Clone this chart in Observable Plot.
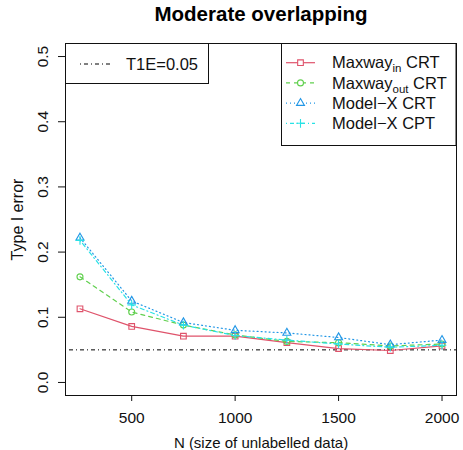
<!DOCTYPE html>
<html><head><meta charset="utf-8">
<script src="https://cdn.jsdelivr.net/npm/d3@7"></script>
<script src="https://cdn.jsdelivr.net/npm/@observablehq/plot@0.6"></script>
<style>body{margin:0;background:#fff}</style>
</head><body><div id="chart"></div>
<script>
const N = [250, 500, 750, 1000, 1250, 1500, 1750, 2000];
const maxwayIn  = [0.113, 0.086, 0.071, 0.071, 0.061, 0.052, 0.049, 0.056];
const maxwayOut = [0.162, 0.108, 0.088, 0.073, 0.063, 0.061, 0.056, 0.059];
const modelXCRT = [0.222, 0.125, 0.092, 0.080, 0.076, 0.069, 0.058, 0.065];
const modelXCPT = [0.218, 0.119, 0.088, 0.072, 0.065, 0.059, 0.054, 0.057];
const seriesLabels = [["Maxway", "in", " CRT"], ["Maxway", "out", " CRT"], ["Model\u2212X CRT"], ["Model\u2212X CPT"]];
const t1e = 0.05;
const xTicks = [500, 1000, 1500, 2000];
const yTicks = [0, 0.1, 0.2, 0.3, 0.4, 0.5];
const titleText = "Moderate overlapping";
const xLabel = "N (size of unlabelled data)";
const yLabel = "Type I error";

const seriesValues = [maxwayIn, maxwayOut, modelXCRT, modelXCPT];
const styles = [
  {color: "#DF536B", dash: null, symbol: "square2", d3sym: d3.symbolSquare2, r: 3.6},
  {color: "#61D04F", dash: "4,4", symbol: "circle", d3sym: d3.symbolCircle, r: 3},
  {color: "#2297E6", dash: "1,3", symbol: "triangle2", d3sym: d3.symbolTriangle2, r: 3.8},
  {color: "#28E2E5", dash: "1,3,4,3", symbol: "plus", d3sym: d3.symbolPlus, r: 2.9}
];
const font = "Liberation Sans, Arial, Helvetica, sans-serif";

const marks = [
  Plot.ruleY([t1e], {stroke: "#000", strokeWidth: 1, strokeDasharray: "1,3,4,3"})
];
seriesValues.forEach((vals, i) => {
  const s = styles[i];
  const rows = N.map((n, j) => ({n, v: vals[j]}));
  marks.push(Plot.line(rows, {x: "n", y: "v", stroke: s.color, strokeWidth: 1.2, strokeDasharray: s.dash}));
  marks.push(Plot.dot(rows, {x: "n", y: "v", stroke: s.color, fill: "none", strokeWidth: 1.1, symbol: () => s.symbol, r: s.r}));
});
marks.push(
  Plot.frame({stroke: "#111", strokeWidth: 1}),
  Plot.axisX(xTicks, {tickSize: 6, tickPadding: 10, fontSize: 15.5, label: null, stroke: "#111", tickFormat: d3.format("d")}),
  Plot.axisY(yTicks, {tickSize: 7, tickFormat: () => "", label: null, stroke: "#111"}),
  Plot.text(yTicks, {y: d => d, text: d => d3.format(".1f")(d), frameAnchor: "left", dx: -22, rotate: -90, textAnchor: "middle", lineAnchor: "middle", fontSize: 15.5, fill: "#111"}),
  Plot.text([yLabel], {text: d => d, frameAnchor: "left", dx: -48, rotate: -90, textAnchor: "middle", lineAnchor: "middle", fontSize: 16, fill: "#111"}),
  Plot.text([xLabel], {text: d => d, frameAnchor: "bottom", dy: 48, lineAnchor: "middle", fontSize: 15, fill: "#111"}),
  Plot.text([titleText], {text: d => d, frameAnchor: "top", dy: -29, lineAnchor: "middle", fontSize: 20.5, fontWeight: "bold", fill: "#000"})
);

const plot = Plot.plot({
  width: 463, height: 450,
  marginLeft: 65, marginRight: 7, marginTop: 43, marginBottom: 55,
  x: {domain: [180, 2070], label: null},
  y: {domain: [-0.02, 0.52], label: null},
  style: {fontFamily: font, background: "#fff", color: "#111"},
  marks
});
document.getElementById("chart").appendChild(plot);

// Legends
const svg = d3.select(plot);
const g = svg.append("g").attr("font-family", font).attr("font-size", 16.5)
  .attr("text-anchor", "start").attr("fill", "#111");
// T1E legend (top-left)
g.append("rect").attr("x", 65.5).attr("y", 43.5).attr("width", 143).attr("height", 40).attr("fill", "#fff").attr("stroke", "#111");
g.append("line").attr("x1", 80).attr("x2", 112).attr("y1", 64).attr("y2", 64).attr("stroke", "#000").attr("stroke-dasharray", "1,3,4,3");
g.append("text").attr("x", 126).attr("y", 64).attr("dy", "0.35em").attr("text-anchor", "start").text(`T1E=${t1e}`);
// Series legend (top-right)
g.append("rect").attr("x", 281.5).attr("y", 43.5).attr("width", 174.5).attr("height", 102).attr("fill", "#fff").attr("stroke", "#111");
styles.forEach((s, i) => {
  const y = 62.7 + i * 20.2;
  const ln = g.append("line").attr("x1", 286).attr("x2", 315).attr("y1", y).attr("y2", y)
    .attr("stroke", s.color).attr("stroke-width", 1.2);
  if (s.dash) ln.attr("stroke-dasharray", s.dash);
  g.append("path").attr("d", d3.symbol(s.d3sym, Math.PI * s.r * s.r)())
    .attr("transform", `translate(300.5,${y})`).attr("fill", "#fff").attr("stroke", s.color).attr("stroke-width", 1.1);
  const t = g.append("text").attr("x", 332).attr("y", y).attr("dy", "0.35em").attr("text-anchor", "start");
  const parts = seriesLabels[i];
  t.append("tspan").text(parts[0]);
  if (parts.length > 1) {
    t.append("tspan").attr("font-size", 11.5).attr("dy", 4).text(parts[1]);
    t.append("tspan").attr("dy", -4).text(parts[2]);
  }
});
</script>
</body></html>
